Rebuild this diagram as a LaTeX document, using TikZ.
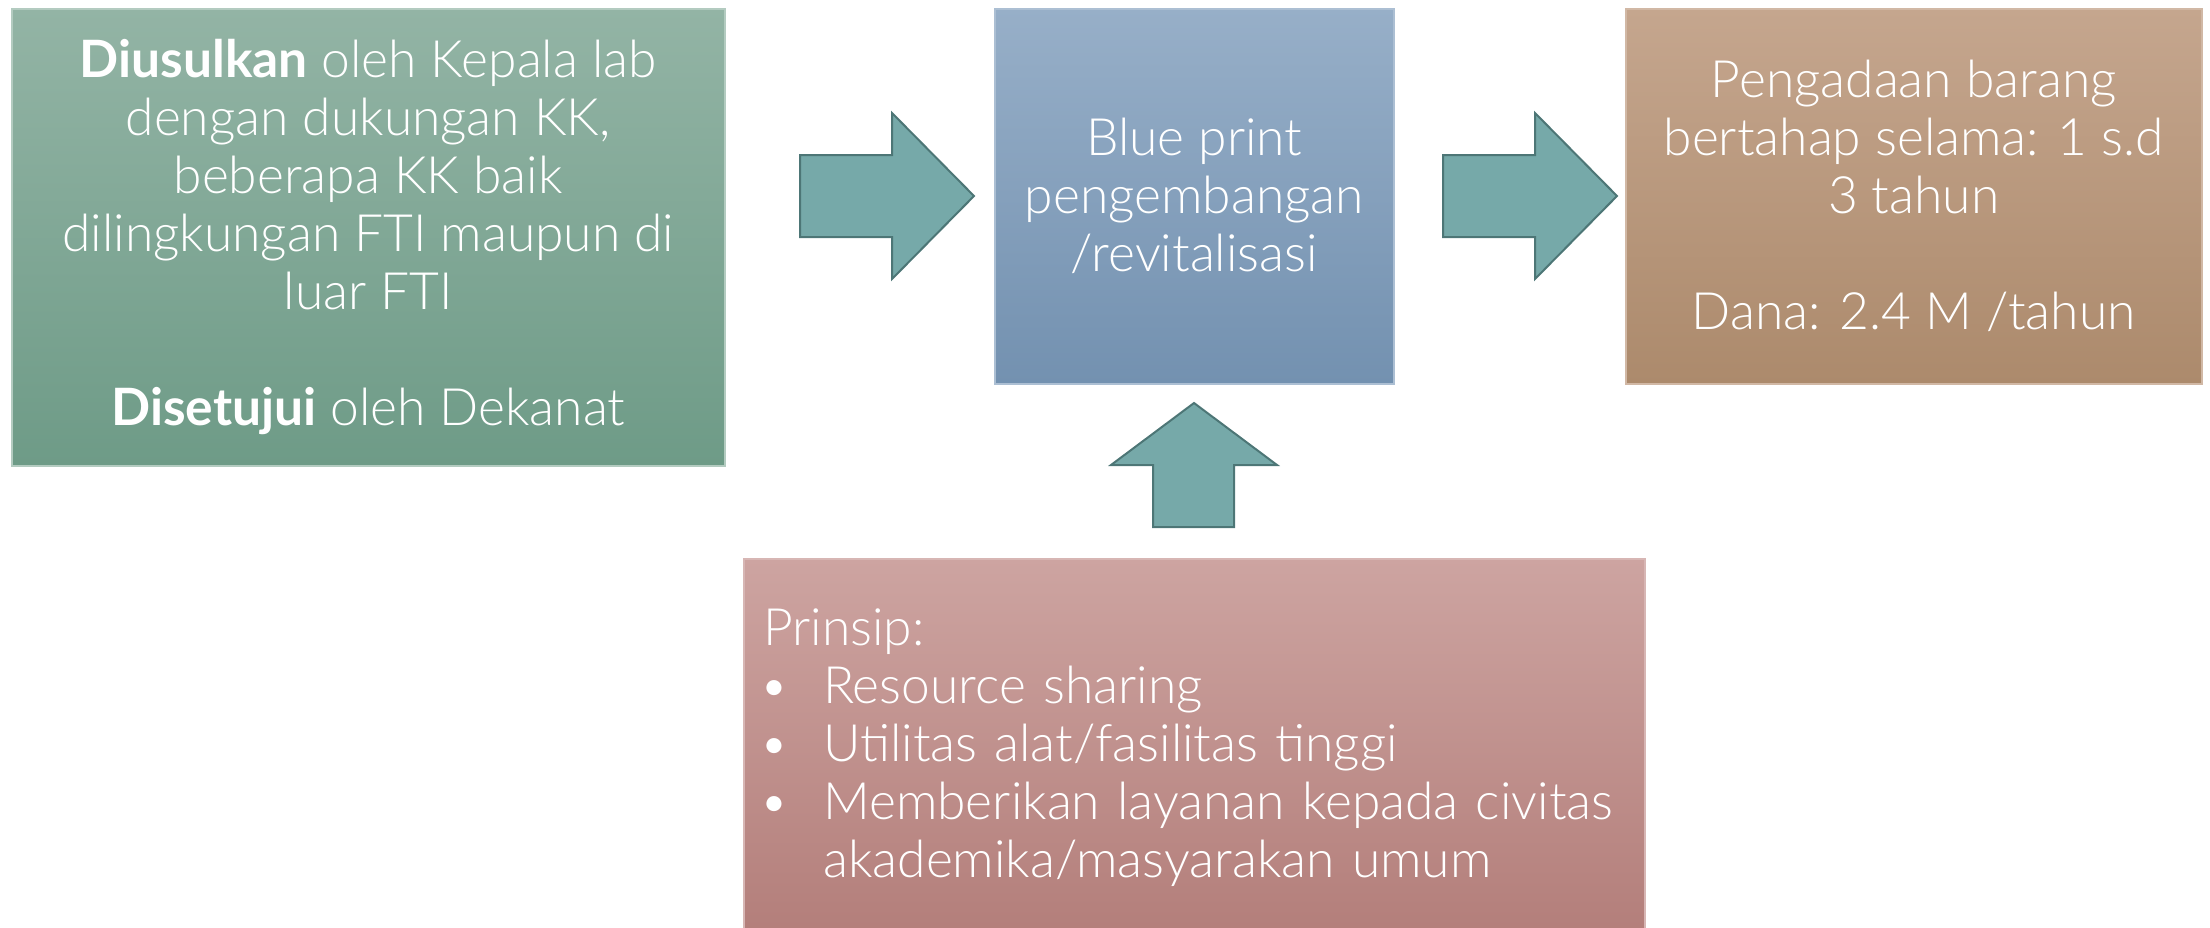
\documentclass[tikz,border=0pt]{standalone}
\usepackage{fontspec}
\setmainfont{Lato}[UprightFont={* Light},BoldFont={* Bold}]
\definecolor{gtop}{HTML}{93B4A5}
\definecolor{gbot}{HTML}{6E9B87}
\definecolor{btop}{HTML}{97AFC8}
\definecolor{bbot}{HTML}{7391B0}
\definecolor{rtop}{HTML}{C5A68E}
\definecolor{rbot}{HTML}{AC8A6C}
\definecolor{ptop}{HTML}{CDA4A1}
\definecolor{pbot}{HTML}{B37E7A}
\definecolor{arrfill}{HTML}{76A9A9}
\definecolor{arrdraw}{HTML}{4D7676}
\newcommand{\bulletitem}{\makebox[60pt][l]{\hspace*{-4pt}•}}
\begin{document}
\begin{tikzpicture}[x=1pt,y=-1pt,
  box/.style={anchor=north west, inner sep=0pt, shading=axis, line width=1.5pt,
    text=white, font=\fontsize{51.5}{58}\selectfont},
  blockarrow/.style={fill=arrfill, draw=arrdraw, line width=2pt, line join=miter}]
\useasboundingbox (0,0) rectangle (2210,927);
% boxes
\node[box, top color=gtop, bottom color=gbot, draw=gtop!70!white,
  minimum width=713pt, minimum height=457pt, align=center] (green) at (11,8)
  {\textbf{Diusulkan} oleh Kepala lab\\ dengan dukungan KK,\\ beberapa KK baik\\
   dilingkungan FTI maupun di\\ luar FTI\\[58pt] \textbf{Disetujui} oleh Dekanat};
\node[box, top color=btop, bottom color=bbot, draw=btop!80!white,
  minimum width=399pt, minimum height=375pt, align=center] (blue) at (994,8)
  {Blue print\\ pengembangan\\ /revitalisasi};
\node[box, top color=rtop, bottom color=rbot, draw=rtop!80!white,
  minimum width=576pt, minimum height=375pt, align=center] (brown) at (1625,8)
  {Pengadaan barang\\ bertahap selama: 1 s.d\\ 3 tahun\\[58pt] Dana: 2.4 M /tahun};
\node[box, top color=ptop, bottom color=pbot, draw=ptop!80!white,
  minimum width=901pt, minimum height=378pt, align=left, text width=862pt] (pink) at (743,558)
  {Prinsip:\\
   \bulletitem Resource sharing\\
   \bulletitem Utilitas alat/fasilitas tinggi\\
   \bulletitem Memberikan layanan kepada civitas\\
   \makebox[60pt][l]{}akademika/masyarakan umum};
% block arrows
\draw[blockarrow] (800,155) -- (892,155) -- (892,113) -- (974,196) -- (892,279) -- (892,237) -- (800,237) -- cycle;
\draw[blockarrow] (1443,155) -- (1535,155) -- (1535,113) -- (1617,196) -- (1535,279) -- (1535,237) -- (1443,237) -- cycle;
\draw[blockarrow] (1194,403) -- (1277,465) -- (1234,465) -- (1234,527) -- (1153,527) -- (1153,465) -- (1111,465) -- cycle;
\end{tikzpicture}
\end{document}
